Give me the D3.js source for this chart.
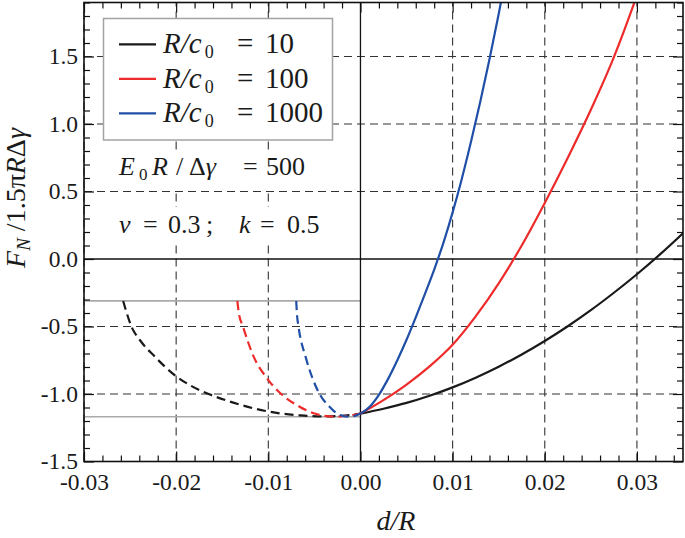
<!DOCTYPE html>
<meta charset="utf-8">
<style>
    body { margin: 0; background: #fff; }
    text { fill: #1a1a1a; font-family: "Liberation Serif", "Tinos", "Times New Roman", serif; }
</style>
<body>
<script src="https://cdn.jsdelivr.net/npm/d3@7/dist/d3.min.js"></script>
<script>

    var serif = "'Liberation Serif', 'Tinos', 'Times New Roman', serif";

    // tick values and labels
    var xTicks = [-0.03, -0.02, -0.01, 0, 0.01, 0.02, 0.03];
    var xTickLabels = ["-0.03", "-0.02", "-0.01", "0.00", "0.01", "0.02", "0.03"];
    var yTicks = [-1.5, -1.0, -0.5, 0, 0.5, 1.0, 1.5];
    var yTickLabels = ["-1.5", "-1.0", "-0.5", "0.0", "0.5", "1.0", "1.5"];

    // legend
    var seriesNames = ["10", "100", "1000"];
    var seriesColors = ["#1a1a1a", "#ee2b2b", "#1f4fa6"];

    // gray reference levels (drawn for d < 0)
    var refLevels = [-0.31, -1.168];

    // solid branches (d >= 0)
    var blackSolidD = [0, 0.0025, 0.005, 0.0075, 0.01, 0.0125, 0.015, 0.0175, 0.02, 0.0225, 0.025, 0.0275, 0.03, 0.0325, 0.035];
    var blackSolidF = [-1.145, -1.109, -1.066, -1.013, -0.951, -0.879, -0.798, -0.707, -0.607, -0.498, -0.379, -0.250, -0.113, 0.034, 0.191];

    var redSolidD = [0, 0.0025, 0.005, 0.0075, 0.01, 0.0125, 0.015, 0.0175, 0.02, 0.0225, 0.025, 0.0275, 0.0297, 0.031];
    var redSolidF = [-1.145, -1.045, -0.930, -0.795, -0.635, -0.425, -0.180, 0.100, 0.415, 0.750, 1.105, 1.495, 1.895, 2.150];

    var blueSolidD = [0, 0.001, 0.002, 0.003, 0.004, 0.005, 0.006, 0.007, 0.008, 0.009, 0.010, 0.011, 0.012, 0.013, 0.014, 0.015, 0.016];
    var blueSolidF = [-1.145, -1.094, -1.006, -0.888, -0.750, -0.598, -0.432, -0.258, -0.078, 0.120, 0.345, 0.595, 0.870, 1.165, 1.480, 1.815, 2.170];

    // dashed branches (d <= 0)
    var blackDashD = [-0.02575, -0.02546, -0.02485, -0.02394, -0.02232, -0.01997, -0.0185, -0.0164, -0.0138, -0.0115, -0.0091, -0.0066, -0.0044, -0.0023, 0];
    var blackDashF = [-0.311, -0.378, -0.501, -0.600, -0.723, -0.870, -0.935, -1.002, -1.064, -1.108, -1.140, -1.158, -1.166, -1.163, -1.145];

    var redDashD = [-0.01336, -0.0132, -0.01275, -0.01159, -0.01022, -0.0086, -0.00661, -0.0048, -0.003, -0.0015, 0];
    var redDashF = [-0.311, -0.400, -0.501, -0.723, -0.877, -1.000, -1.094, -1.148, -1.168, -1.163, -1.145];

    var blueDashD = [-0.00697, -0.0069, -0.00672, -0.00596, -0.00524, -0.00444, -0.00336, -0.00228, -0.00137, -0.0006, 0];
    var blueDashF = [-0.311, -0.400, -0.501, -0.723, -0.877, -1.000, -1.094, -1.155, -1.168, -1.162, -1.145];

    var solid = [[blackSolidD, blackSolidF], [redSolidD, redSolidF], [blueSolidD, blueSolidF]];
    var dashed = [[blackDashD, blackDashF], [redDashD, redDashF], [blueDashD, blueDashF]];

    var width = 685, height = 538;
    var x = d3.scaleLinear().domain([-0.03, 0.035]).range([84, 683]);
    var y = d3.scaleLinear().domain([-1.5, 1.9]).range([461.5, 2.5]);

    var svg = d3.select("body").append("svg")
            .attr("width", width)
            .attr("height", height)
            .style("font-family", serif);

    svg.append("clipPath").attr("id", "plot")
            .append("rect")
            .attr("x", x(-0.03)).attr("y", y(1.9))
            .attr("width", x(0.035) - x(-0.03))
            .attr("height", y(-1.5) - y(1.9));

    // dashed grid
    svg.append("g").selectAll("line")
            .data(xTicks.filter(function(d) { return d !== 0; }))
            .join("line")
            .attr("x1", function(d) { return x(d); })
            .attr("x2", function(d) { return x(d); })
            .attr("y1", y(-1.5)).attr("y2", y(1.9))
            .attr("stroke", "#333").attr("stroke-width", 1.1)
            .attr("stroke-dasharray", "8,5");

    svg.append("g").selectAll("line")
            .data(yTicks.filter(function(d) { return d !== 0; }))
            .join("line")
            .attr("x1", x(-0.03)).attr("x2", x(0.035))
            .attr("y1", function(d) { return y(d); })
            .attr("y2", function(d) { return y(d); })
            .attr("stroke", "#333").attr("stroke-width", 1.1)
            .attr("stroke-dasharray", "8,5");

    // gray reference lines
    svg.append("g").selectAll("line")
            .data(refLevels)
            .join("line")
            .attr("x1", x(-0.03)).attr("x2", x(0))
            .attr("y1", function(d) { return y(d); })
            .attr("y2", function(d) { return y(d); })
            .attr("stroke", "#aaa").attr("stroke-width", 1.6);

    // zero lines
    svg.append("line")
            .attr("x1", x(-0.03)).attr("x2", x(0.035))
            .attr("y1", y(0)).attr("y2", y(0))
            .attr("stroke", "#111").attr("stroke-width", 1.3);
    svg.append("line")
            .attr("x1", x(0)).attr("x2", x(0))
            .attr("y1", y(-1.5)).attr("y2", y(1.9))
            .attr("stroke", "#111").attr("stroke-width", 1.3);

    var line = d3.line()
            .x(function(p) { return x(p[0]); })
            .y(function(p) { return y(p[1]); })
            .curve(d3.curveMonotoneX);

    function pts(s) { return s[0].map(function(d, i) { return [d, s[1][i]]; }); }

    var curves = svg.append("g").attr("clip-path", "url(#plot)");

    dashed.forEach(function(s, i) {
        curves.append("path")
                .attr("d", line(pts(s)))
                .attr("fill", "none")
                .attr("stroke", seriesColors[i])
                .attr("stroke-width", 2.2)
                .attr("stroke-dasharray", "9,5");
    });

    solid.forEach(function(s, i) {
        curves.append("path")
                .attr("d", line(pts(s)))
                .attr("fill", "none")
                .attr("stroke", seriesColors[i])
                .attr("stroke-width", 2.2);
    });

    // axes (ticks inward on all four sides)
    var xMinor = d3.range(-0.03, 0.0351, 0.002).filter(function(d) { return Math.abs(Math.round(d * 100) - d * 100) > 1e-6; });
    var yMinor = d3.range(-1.5, 1.901, 0.1).filter(function(d) { return Math.abs(Math.round(d * 2) - d * 2) > 1e-6; });

    function styleAxis(g) {
        g.attr("font-family", null);
        g.select(".domain").remove();
        g.selectAll(".tick line").attr("stroke", "#111").attr("stroke-width", 1.2);
    }

    svg.append("g")
            .attr("transform", "translate(0," + y(-1.5) + ")")
            .call(d3.axisBottom(x).tickValues(xMinor).tickSize(-6).tickFormat(""))
            .call(styleAxis);
    svg.append("g")
            .attr("transform", "translate(0," + y(1.9) + ")")
            .call(d3.axisTop(x).tickValues(xMinor).tickSize(-6).tickFormat(""))
            .call(styleAxis);
    svg.append("g")
            .attr("transform", "translate(0," + y(1.9) + ")")
            .call(d3.axisTop(x).tickValues(xTicks).tickSize(-10).tickFormat(""))
            .call(styleAxis);
    svg.append("g")
            .attr("transform", "translate(" + x(-0.03) + ",0)")
            .call(d3.axisLeft(y).tickValues(yMinor).tickSize(-6).tickFormat(""))
            .call(styleAxis);
    svg.append("g")
            .attr("transform", "translate(" + x(0.035) + ",0)")
            .call(d3.axisRight(y).tickValues(yMinor).tickSize(-6).tickFormat(""))
            .call(styleAxis);
    svg.append("g")
            .attr("transform", "translate(" + x(0.035) + ",0)")
            .call(d3.axisRight(y).tickValues(yTicks).tickSize(-10).tickFormat(""))
            .call(styleAxis);

    var xAxis = svg.append("g")
            .attr("transform", "translate(0," + y(-1.5) + ")")
            .call(d3.axisBottom(x).tickValues(xTicks)
                    .tickFormat(function(d, i) { return xTickLabels[i]; })
                    .tickSize(-10))
            .call(styleAxis);
    xAxis.selectAll("text")
            .attr("y", 28.5).attr("dy", null)
            .attr("fill", "#1a1a1a")
            .style("font-family", serif)
            .style("font-size", "23.5px");

    var yAxis = svg.append("g")
            .attr("transform", "translate(" + x(-0.03) + ",0)")
            .call(d3.axisLeft(y).tickValues(yTicks)
                    .tickFormat(function(d, i) { return yTickLabels[i]; })
                    .tickSize(-10).tickPadding(6))
            .call(styleAxis);
    yAxis.selectAll("text")
            .attr("dy", "0.3em")
            .attr("fill", "#1a1a1a")
            .style("font-family", serif)
            .style("font-size", "23.5px");

    // frame
    svg.append("rect")
            .attr("x", x(-0.03)).attr("y", y(1.9))
            .attr("width", x(0.035) - x(-0.03))
            .attr("height", y(-1.5) - y(1.9))
            .attr("fill", "none")
            .attr("stroke", "#111")
            .attr("stroke-width", 1.6);

    // legend
    var lg = svg.append("g");
    lg.append("rect")
            .attr("x", 103.5).attr("y", 18.5)
            .attr("width", 229).attr("height", 121.5)
            .attr("fill", "#fff")
            .attr("stroke", "#a3a3a3")
            .attr("stroke-width", 1.5);

    seriesNames.forEach(function(name, i) {
        var yy = 44.3 + i * 34.5;
        lg.append("line")
                .attr("x1", 119).attr("x2", 156)
                .attr("y1", yy).attr("y2", yy)
                .attr("stroke", seriesColors[i])
                .attr("stroke-width", 2.2);
        var t = lg.append("text")
                .attr("x", 163).attr("y", yy + 9)
                .style("font-family", serif)
                .style("font-size", "29px");
        t.append("tspan").style("font-style", "italic").text("R/c");
        t.append("tspan").attr("dx", 3).attr("dy", 5).style("font-size", "18px").text("0");
        lg.append("text").attr("x", 237).attr("y", yy + 9)
                .style("font-family", serif)
                .style("font-size", "29px").text("=");
        lg.append("text").attr("x", 265).attr("y", yy + 9)
                .style("font-family", serif)
                .style("font-size", "29px").text(name);
    });

    // parameter text with white backing
    svg.append("rect").attr("x", 113).attr("y", 150).attr("width", 200).attr("height", 39).attr("fill", "#fff");
    svg.append("rect").attr("x", 113).attr("y", 207).attr("width", 215).attr("height", 38).attr("fill", "#fff");

    var p1 = svg.append("text").attr("y", 175).style("font-family", serif).style("font-size", "26px");
    p1.append("tspan").attr("x", 119).style("font-style", "italic").text("E");
    p1.append("tspan").attr("x", 139).attr("dy", 5).style("font-size", "17px").text("0");
    p1.append("tspan").attr("x", 152).attr("dy", -5).style("font-style", "italic").text("R");
    p1.append("tspan").attr("x", 176).text("/");
    p1.append("tspan").attr("x", 189).text("Δ");
    p1.append("tspan").style("font-style", "italic").text("γ");
    p1.append("tspan").attr("x", 243).text("=");
    p1.append("tspan").attr("x", 266).text("500");

    var p2 = svg.append("text").attr("y", 233).style("font-family", serif).style("font-size", "26px");
    p2.append("tspan").attr("x", 119).style("font-style", "italic").text("ν");
    p2.append("tspan").attr("x", 143).text("=");
    p2.append("tspan").attr("x", 168).text("0.3");
    p2.append("tspan").attr("x", 206).text(";");
    p2.append("tspan").attr("x", 239).style("font-style", "italic").text("k");
    p2.append("tspan").attr("x", 260).text("=");
    p2.append("tspan").attr("x", 287).text("0.5");

    // axis titles
    svg.append("text")
            .attr("x", 396).attr("y", 530)
            .attr("text-anchor", "middle")
            .style("font-family", serif)
            .style("font-size", "28px")
            .style("font-style", "italic")
            .text("d/R");

    var yt = svg.append("text")
            .attr("transform", "translate(25,198) rotate(-90)")
            .attr("text-anchor", "middle")
            .style("font-family", serif)
            .style("font-size", "28px");
    yt.append("tspan").style("font-style", "italic").text("F");
    yt.append("tspan").attr("dy", 5).style("font-size", "19px").style("font-style", "italic").text("N");
    yt.append("tspan").attr("dy", -5).text(" /1.5π");
    yt.append("tspan").style("font-style", "italic").text("R");
    yt.append("tspan").text("Δ");
    yt.append("tspan").style("font-style", "italic").text("γ");

</script>
